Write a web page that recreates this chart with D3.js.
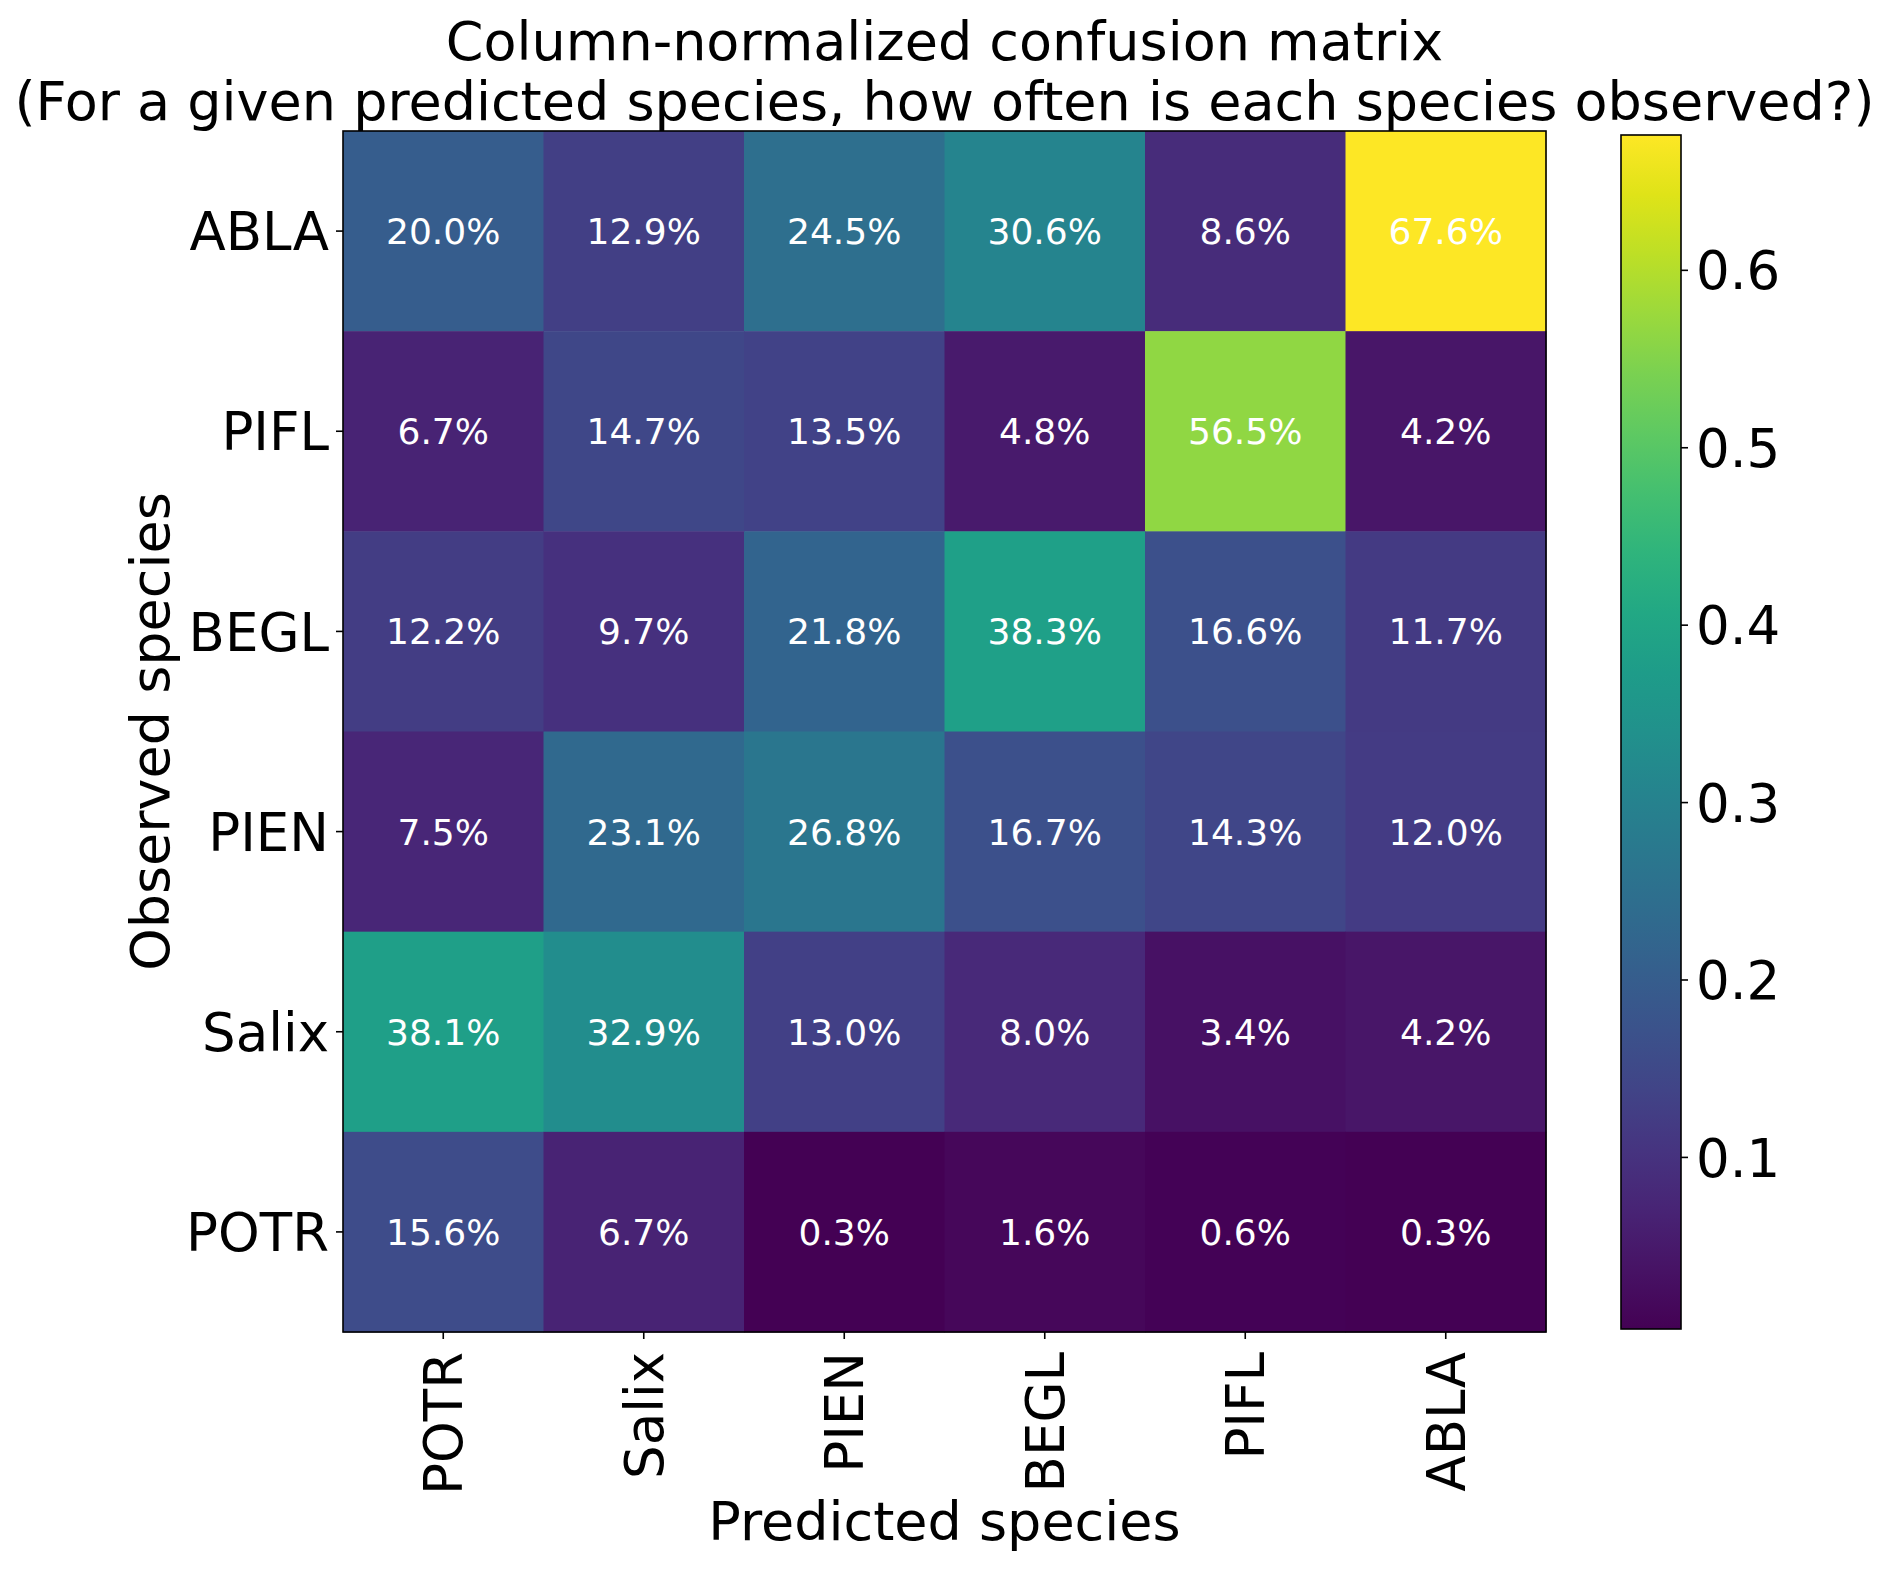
<!DOCTYPE html>
<html>
<head>
<meta charset="utf-8">
<script src="https://cdn.jsdelivr.net/npm/d3@7"></script>
<style>
  html, body { margin: 0; padding: 0; background: #fff; }
  svg { display: block; font-family: "DejaVu Sans", sans-serif; }
</style>
</head>
<body>
<svg id="chart" width="1892" height="1569"></svg>
<script>
// ---- data ----
const predicted = ["POTR", "Salix", "PIEN", "BEGL", "PIFL", "ABLA"];   // columns
const observed  = ["ABLA", "PIFL", "BEGL", "PIEN", "Salix", "POTR"];   // rows (top to bottom)
const rowABLA  = [0.200, 0.129, 0.245, 0.306, 0.086, 0.676];
const rowPIFL  = [0.067, 0.147, 0.135, 0.048, 0.565, 0.042];
const rowBEGL  = [0.122, 0.097, 0.218, 0.383, 0.166, 0.117];
const rowPIEN  = [0.075, 0.231, 0.268, 0.167, 0.143, 0.120];
const rowSalix = [0.381, 0.329, 0.130, 0.080, 0.034, 0.042];
const rowPOTR  = [0.156, 0.067, 0.003, 0.016, 0.006, 0.003];
const colorbarTicks = [0.1, 0.2, 0.3, 0.4, 0.5, 0.6];
const titleLines = ["Column-normalized confusion matrix",
  "(For a given predicted species, how often is each species observed?)"];
const xLabel = "Predicted species";
const yLabel = "Observed species";

const matrix = [rowABLA, rowPIFL, rowBEGL, rowPIEN, rowSalix, rowPOTR];
const cells = [];
matrix.forEach((row, i) => row.forEach((v, j) => cells.push({ obs: observed[i], pred: predicted[j], v })));

// ---- layout ----
const svg = d3.select("#chart");
const plot = { x0: 343, x1: 1546, y0: 131, y1: 1332 };
const cb = { x0: 1621, x1: 1681, y0: 135, y1: 1329 };
const fontBig = 53;
const fontLabel = 54;

const x = d3.scaleBand().domain(predicted).range([plot.x0, plot.x1]).padding(0);
const y = d3.scaleBand().domain(observed).range([plot.y0, plot.y1]).padding(0);
const ext = d3.extent(cells, d => d.v);
const color = d3.scaleSequential(d3.interpolateViridis).domain(ext);

// cells
svg.append("g").selectAll("rect").data(cells).join("rect")
  .attr("x", d => x(d.pred)).attr("y", d => y(d.obs))
  .attr("width", x.bandwidth() + 0.5).attr("height", y.bandwidth() + 0.5)
  .attr("fill", d => color(d.v));

// annotations
svg.append("g").selectAll("text").data(cells).join("text")
  .attr("x", d => x(d.pred) + x.bandwidth() / 2)
  .attr("y", d => y(d.obs) + y.bandwidth() / 2)
  .attr("dy", "0.36em")
  .attr("text-anchor", "middle")
  .attr("fill", "#fff")
  .style("font-size", "36px")
  .text(d => (d.v * 100).toFixed(1) + "%");

// frame
svg.append("rect").attr("x", plot.x0).attr("y", plot.y0)
  .attr("width", plot.x1 - plot.x0).attr("height", plot.y1 - plot.y0)
  .attr("fill", "none").attr("stroke", "#000").attr("stroke-width", 1.6);

// y axis
const yAxis = svg.append("g").attr("transform", `translate(${plot.x0},0)`)
  .call(d3.axisLeft(y).tickSize(7).tickPadding(7));
yAxis.select(".domain").remove();
yAxis.selectAll(".tick line").attr("stroke", "#000").attr("stroke-width", 1.6);
yAxis.selectAll(".tick text").attr("fill", "#000").style("font-size", fontBig + "px")
  .attr("font-family", "DejaVu Sans").attr("dy", "0.36em");

// x axis
const xAxis = svg.append("g").attr("transform", `translate(0,${plot.y1})`)
  .call(d3.axisBottom(x).tickSize(7).tickPadding(7));
xAxis.select(".domain").remove();
xAxis.selectAll(".tick line").attr("stroke", "#000").attr("stroke-width", 1.6);
xAxis.selectAll(".tick text").attr("fill", "#000").style("font-size", fontBig + "px")
  .attr("font-family", "DejaVu Sans")
  .attr("text-anchor", "end")
  .attr("y", 0).attr("x", 0)
  .attr("dy", "0.36em")
  .attr("transform", "translate(0,20) rotate(-90)");

// colorbar
const cbScale = d3.scaleLinear().domain(ext).range([cb.y1, cb.y0]);
const defs = svg.append("defs");
const grad = defs.append("linearGradient").attr("id", "cbgrad")
  .attr("x1", 0).attr("y1", 1).attr("x2", 0).attr("y2", 0);
d3.range(0, 1.0001, 0.05).forEach(t => {
  grad.append("stop").attr("offset", t).attr("stop-color", d3.interpolateViridis(t));
});
svg.append("rect").attr("x", cb.x0).attr("y", cb.y0)
  .attr("width", cb.x1 - cb.x0).attr("height", cb.y1 - cb.y0)
  .attr("fill", "url(#cbgrad)").attr("stroke", "#000").attr("stroke-width", 1.6);
const cbAxis = svg.append("g").attr("transform", `translate(${cb.x1},0)`)
  .call(d3.axisRight(cbScale).tickValues(colorbarTicks).tickFormat(d3.format(".1f")).tickSize(7).tickPadding(8));
cbAxis.select(".domain").remove();
cbAxis.selectAll(".tick line").attr("stroke", "#000").attr("stroke-width", 1.6);
cbAxis.selectAll(".tick text").attr("fill", "#000").style("font-size", fontBig + "px")
  .attr("font-family", "DejaVu Sans").attr("dy", "0.36em");

// title
const cx = (plot.x0 + plot.x1) / 2;
svg.append("g").selectAll("text").data(titleLines).join("text")
  .attr("x", cx).attr("y", (d, i) => 60 + i * 60)
  .attr("text-anchor", "middle").style("font-size", fontLabel + "px").attr("fill", "#000")
  .text(d => d);

// axis labels
svg.append("text").attr("x", cx).attr("y", 1540)
  .attr("text-anchor", "middle").style("font-size", fontLabel + "px").text(xLabel);
svg.append("text").attr("transform", `translate(169,${(plot.y0 + plot.y1) / 2}) rotate(-90)`)
  .attr("text-anchor", "middle").style("font-size", fontLabel + "px").text(yLabel);
</script>
</body>
</html>
